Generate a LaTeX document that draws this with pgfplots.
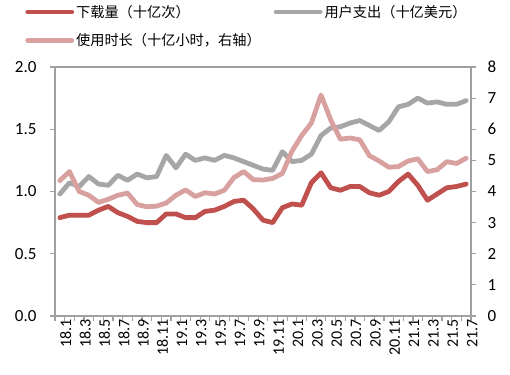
\documentclass[border=0pt]{standalone}
\usepackage{pgfplots}
\pgfplotsset{compat=1.18}
\usepackage{pgfplotstable}
\usepackage{fontspec}
\setmainfont{Carlito}
\newfontfamily\cjk{Noto Sans CJK SC}
\definecolor{cred}{HTML}{C0504D}
\definecolor{cgray}{HTML}{A6A6A6}
\definecolor{cpink}{HTML}{D9A0A0}
\definecolor{caxis}{HTML}{A0A0A0}

\pgfplotstableread{
i dl sp tm
0 0.79 0.98 4.35
1 0.81 1.07 4.64
2 0.81 1.04 4.00
3 0.81 1.12 3.88
4 0.85 1.06 3.65
5 0.88 1.05 3.75
6 0.83 1.13 3.88
7 0.80 1.09 3.95
8 0.76 1.14 3.58
9 0.75 1.11 3.51
10 0.75 1.12 3.53
11 0.82 1.29 3.63
12 0.82 1.19 3.88
13 0.79 1.30 4.05
14 0.79 1.25 3.84
15 0.84 1.27 3.96
16 0.85 1.25 3.92
17 0.88 1.29 4.04
18 0.92 1.27 4.45
19 0.93 1.24 4.64
20 0.86 1.21 4.38
21 0.77 1.18 4.37
22 0.75 1.17 4.42
23 0.87 1.32 4.58
24 0.90 1.24 5.30
25 0.89 1.25 5.80
26 1.07 1.30 6.20
27 1.15 1.45 7.10
28 1.03 1.51 6.30
29 1.01 1.52 5.68
30 1.04 1.55 5.72
31 1.04 1.57 5.66
32 0.99 1.53 5.15
33 0.97 1.49 4.98
34 1.00 1.56 4.78
35 1.08 1.68 4.80
36 1.14 1.70 4.98
37 1.05 1.75 5.05
38 0.93 1.71 4.64
39 0.98 1.72 4.70
40 1.03 1.70 4.96
41 1.04 1.70 4.90
42 1.06 1.73 5.07
}\datatable

\begin{document}
\begin{tikzpicture}
\useasboundingbox (0,0) rectangle (510bp,375bp);
\pgfplotsset{
  common/.style={
    at={(55bp,59bp)}, anchor=south west,
    scale only axis, width=416bp, height=249bp,
    xmin=-0.5, xmax=42.5,
    axis line style={caxis, line width=1.2bp},
    tick style={caxis, line width=1.2bp},
    tick align=outside,
    major tick length=5bp,
    /pgf/number format/assume math mode=true,
  },
  dataline/.style={line width=4.8bp, line cap=round, line join=round},
}
\begin{axis}[common,
  ymin=0, ymax=2,
  ytick={0,0.5,1,1.5,2},
  ytick pos=left,
  yticklabel style={font=\fontsize{17bp}{17bp}\selectfont, xshift=-10bp,
    /pgf/number format/.cd, fixed, fixed zerofill, precision=1},
  xtick={-0.5,0.5,...,42.5},
  xticklabels={},
  xtick pos=bottom,
  extra x ticks={0,2,...,42},
  extra x tick labels={18.1,18.3,18.5,18.7,18.9,18.11,19.1,19.3,19.5,19.7,19.9,19.11,20.1,20.3,20.5,20.7,20.9,20.11,21.1,21.3,21.5,21.7},
  extra x tick style={major tick length=0pt,
    xticklabel style={rotate=90, anchor=east, yshift=-6bp, font=\fontsize{16bp}{16bp}\selectfont}},
  legend columns=2,
  legend cell align=left,
  legend image code/.code={\draw[#1] (0bp,0bp) -- (44bp,0bp);},
  legend style={draw=none, fill=none, anchor=north west, at={(-0.079,1.265)},
    font=\cjk\fontsize{14.2bp}{16bp}\selectfont, row sep=11bp,
    /tikz/every even column/.append style={column sep=11bp}},
]
\addplot[dataline, cred] table[x=i, y=dl] {\datatable};
\addlegendentry{下载量（十亿次）}
\addplot[dataline, cgray] table[x=i, y=sp] {\datatable};
\addlegendentry{用户支出（十亿美元）}
\addlegendimage{dataline, cpink}
\addlegendentry{使用时长（十亿小时，右轴）}
\end{axis}
\begin{axis}[common,
  ymin=0, ymax=8,
  axis y line*=right,
  axis x line=none,
  ytick={0,1,...,8},
  yticklabel style={font=\fontsize{17bp}{17bp}\selectfont, xshift=8bp},
]
\addplot[dataline, cpink] table[x=i, y=tm] {\datatable};
\end{axis}
\end{tikzpicture}
\end{document}
